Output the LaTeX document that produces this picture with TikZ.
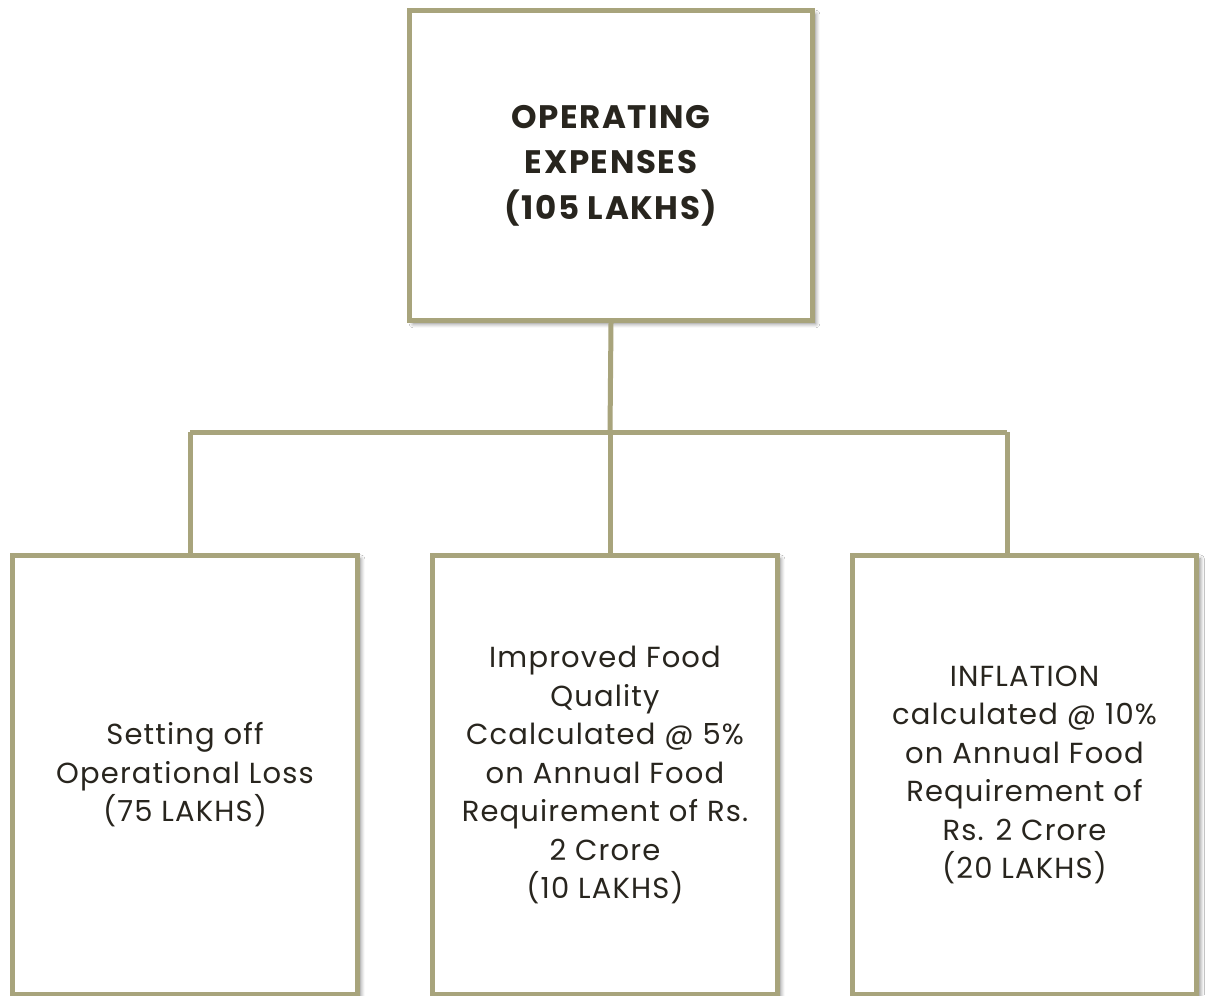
\documentclass[tikz,border=0pt]{standalone}
\usepackage{fontspec}
\setmainfont{Poppins}[LetterSpace=4]
\newfontfamily\headfont{Poppins}[LetterSpace=5]
\usetikzlibrary{shadows.blur}
\definecolor{olivegrey}{RGB}{168,164,124}
\definecolor{inkbrown}{RGB}{40,37,30}
\tikzset{
  box/.style={draw=olivegrey,line width=0.1cm,fill=white,text=inkbrown,align=center,
    blur shadow={shadow xshift=0.07cm,shadow yshift=-0.07cm,shadow blur steps=5,shadow opacity=45}},
  link/.style={draw=olivegrey,line width=0.1cm}
}
\begin{document}
\begin{tikzpicture}[x=0.02cm,y=-0.02cm]
  \path[use as bounding box,clip] (0,0) rectangle (1207,995);
  \fill[white] (0,0) rectangle (1207,995);
  \node(top)[box,minimum width=8.06cm,minimum height=6.2cm,font=\headfont\fontsize{18.5}{26}\selectfont\bfseries] at (611,165.5) {OPERATING\\EXPENSES\\(105 LAKHS)};
  % connectors
  \coordinate (hub) at (610,432);
  \coordinate (jl) at (190,432);
  \coordinate (jr) at (1007,432);
  \draw[link] (top.south) -- (hub);
  \draw[link] (jl) -- (jr);
  \draw[link] (jl) -- ++(0,130);
  \draw[link] (hub) -- ++(0,130);
  \draw[link] (jr) -- ++(0,130);
  \begin{scope}[every node/.style={box,minimum width=6.9cm,minimum height=8.79cm,font=\fontsize{16.5}{21.9}\selectfont}]
    \node(loss) at (185,775) {Setting off\\Operational Loss\\(75 LAKHS)};
    \node(food) at (605,775) {Improved Food\\Quality\\Ccalculated @ 5\%\\on Annual Food\\Requirement of Rs.\\2 Crore\\(10 LAKHS)};
    \node(infl) at (1024.5,775) {INFLATION\\calculated @ 10\%\\on Annual Food\\Requirement of\\Rs. 2 Crore\\(20 LAKHS)};
  \end{scope}
\end{tikzpicture}
\end{document}
